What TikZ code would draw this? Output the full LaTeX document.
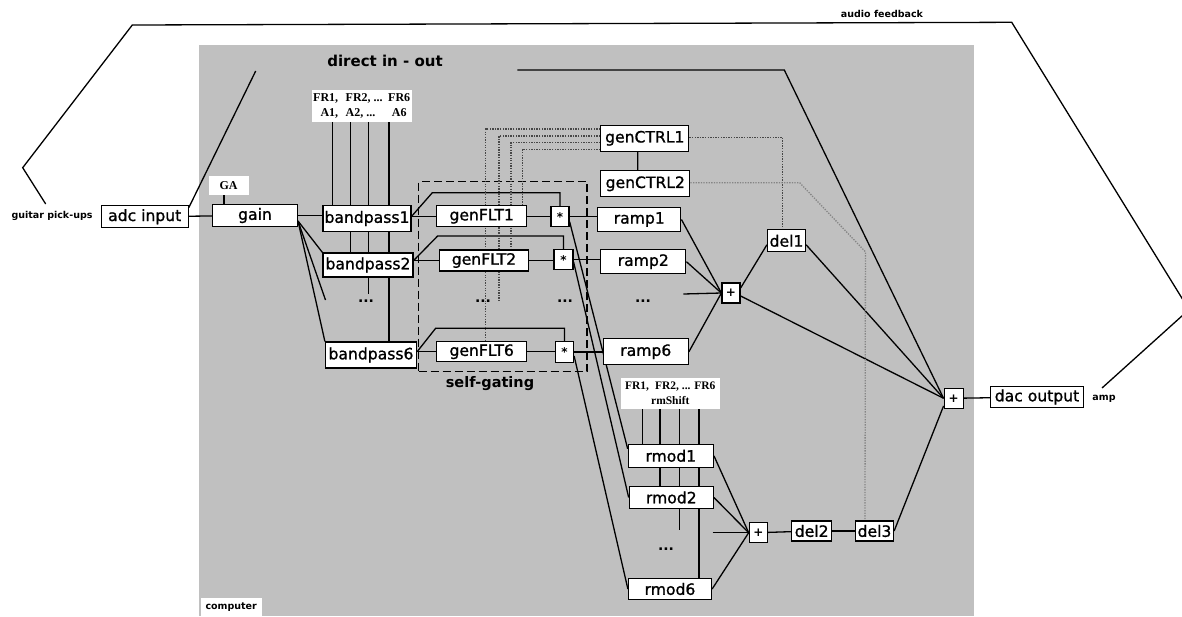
\documentclass[tikz,border=0pt]{standalone}
\usepackage{fontspec}
\setmainfont{DejaVu Sans}
\newfontfamily\boxfont{DejaVu Sans}[FakeBold=1.1]
\newfontfamily\lblserif{Liberation Serif}
\usetikzlibrary{calc}
\pgfdeclarelayer{bg}
\pgfdeclarelayer{edges}
\pgfsetlayers{bg,edges,main}
\definecolor{panel}{RGB}{192,192,192}

\begin{document}
\begin{tikzpicture}[x=1pt,y=-1pt,
  sz/.style 2 args={minimum width=#1pt, minimum height=#2pt},
  blk/.style={draw, fill=white, line width=1.25pt, inner sep=0pt,
    font=\boxfont\fontsize{15.6}{18}\selectfont},
  opbox/.style={draw, fill=white, line width=1.25pt, inner sep=0pt,
    font=\bfseries\fontsize{12}{12}\selectfont},
  dtag/.style={fill=white, inner sep=0pt,
    font=\lblserif\bfseries\fontsize{12}{15}\selectfont},
  dnote/.style={inner sep=0pt, font=\bfseries\fontsize{9.5}{11}\selectfont},
  dtitle/.style={inner sep=0pt, font=\bfseries\fontsize{15}{17}\selectfont},
  dmore/.style={inner sep=0pt, font=\bfseries\fontsize{14}{14}\selectfont},
  wire/.style={line width=1.3pt, black},
  ctl/.style={line width=1.3pt, dash pattern=on 1.3pt off 1.3pt, black!72},
  ctlb/.style={ctl, black!48},
  gatebox/.style={draw, dash pattern=on 8pt off 4pt, line width=1.2pt, inner sep=0pt}
]
\useasboundingbox (0,0) rectangle (1182,616);

% computer panel
\begin{pgfonlayer}{bg}
  \fill[panel] (198.5,44.5) rectangle (974,616);
\end{pgfonlayer}

% ---- blocks ----
\node[blk, sz={87}{22}] (adc) at (144.7,216.7) {adc input};
\node[blk, sz={85}{22}] (gain) at (255,215.5) {gain};
\node[dtag, sz={40}{19}] (ga) at (228.5,185.3) {GA};

\node[dtag, sz={100}{32}] (bplab) at (361.7,105.5)
  {\begin{tabular}{@{}r@{\hspace{7.5pt}}l@{\hspace{5.5pt}}c@{}}FR1, & FR2, ... & FR6\\ A1, & A2, ... & A6\end{tabular}};

\node[blk, sz={88}{26}] (bp1) at (367,218.5) {bandpass1};
\node[blk, sz={90}{24}] (bp2) at (368,265) {bandpass2};
\node[blk, sz={91}{26}] (bp6) at (371,355) {bandpass6};
\node[dmore] (dbp) at (366,301) {...};

\node[blk, sz={90}{21}] (flt1) at (481.7,216.3) {genFLT1};
\node[blk, sz={89}{21}] (flt2) at (484,260.5) {genFLT2};
\node[blk, sz={90}{20}] (flt6) at (481.7,351.7) {genFLT6};
\node[dmore] (dflt) at (483,301) {...};

\node[opbox, sz={18}{20}] (s1) at (560,216.7) {*};
\node[opbox, sz={19}{20}] (s2) at (563.5,259.6) {*};
\node[opbox, sz={18}{21}] (s6) at (564.5,352) {*};
\node[dmore] (dstar) at (565,301) {...};

\node[blk, sz={83}{24}] (ramp1) at (639.3,219.5) {ramp1};
\node[blk, sz={85}{24}] (ramp2) at (643.3,261.7) {ramp2};
\node[blk, sz={85}{26}] (ramp6) at (645.8,351.7) {ramp6};
\node[dmore] (dramp) at (643,301) {...};

\node[blk, sz={88}{26}] (ctrl1) at (644.8,138.3) {genCTRL1};
\node[blk, sz={89}{26}] (ctrl2) at (645.3,183.8) {genCTRL2};

\node[opbox, sz={18}{20}] (sumA) at (731,293) {+};
\node[blk, sz={38}{22}] (del1) at (786.5,240.8) {del1};

\node[dtag, sz={99}{31}, font=\lblserif\bfseries\fontsize{11.5}{14.3}\selectfont, align=center]
  (rmlab) at (670.3,393.3) {FR1,\hspace{6pt}FR2, ... FR6\\rmShift};
\node[blk, sz={85}{23}] (rmod1) at (670.8,455.8) {rmod1};
\node[blk, sz={84}{22}] (rmod2) at (671.3,497.5) {rmod2};
\node[blk, sz={83}{21}] (rmod6) at (670,589) {rmod6};
\node[dmore] (drmod) at (666,549) {...};

\node[opbox, sz={18}{20}] (sumB) at (758.3,532.7) {+};
\node[blk, sz={40}{20}] (del2) at (811.7,531) {del2};
\node[blk, sz={38}{20}] (del3) at (874.5,531) {del3};

\node[opbox, sz={19}{20}] (sumO) at (953.7,398.3) {+};
\node[blk, sz={93}{21}] (dac) at (1037,397) {dac output};

% ---- labels ----
\node[dtitle] (direct) at (385,61) {direct in - out};
\node[dtitle, font=\bfseries\fontsize{14.5}{17}\selectfont] (selfg) at (490,384) {self-gating};
\node[dnote] (pick) at (52,216) {guitar pick-ups};
\node[dnote] (afb) at (882,14) {audio feedback};
\node[dnote] (amp) at (1104,399) {amp};
\node[dnote, fill=white, sz={61}{18}] (comp) at (231.2,607) {computer};

% ---- connectors ----
\begin{pgfonlayer}{edges}
  % self-gating frame
  \node[gatebox, sz={168.5}{190}] (gate) at (502.75,276.7) {};

  % audio feedback loop outside the computer
  \coordinate (fbS) at (45.7,204);
  \coordinate (fbE) at (1102,388);
  \draw[wire] (fbS) -- (22.7,167.7) -- (132.3,25) -- (1011.7,22.3) -- (1189,309.6) -- (fbE);

  % direct in - out
  \coordinate (dA) at (255.7,71);
  \coordinate (dB) at (517.3,70);
  \coordinate (dC) at (784.3,70);
  \draw[wire] ($(adc.north east)+(0,2.5)$) -- (dA);
  \draw[wire] (dB) -- (dC) -- (sumO.west);

  % input chain
  \draw[wire] (adc) -- (gain);
  \draw[wire] ($(ga.south)+(-4.5,0)$) coordinate (gaL) -- (gaL |- gain.north);
  \draw[wire] (gain.east) -- (gain.east -| bp1.west);
  \coordinate (gfan) at (298,221);
  \coordinate (bpd) at (325.5,300);
  \draw[wire] (gfan) -- (bp2.north west);
  \draw[wire] (gfan) -- (bpd);
  \draw[wire] (gfan) -- (bp6.north west);

  % bandpass parameters
  \draw[wire] ($(bplab.south west)+(21.3,0)$) coordinate (v1) -- (v1 |- bp1.north);
  \draw[wire] ($(bplab.south west)+(39.3,0)$) coordinate (v2) -- (v2 |- bp2.north);
  \draw[wire] ($(bplab.south west)+(57.3,0)$) coordinate (v3) -- ($(v3 |- dbp.north)+(0,-5)$);
  \draw[wire] ($(bplab.south west)+(77.6,0)$) coordinate (v4) -- (v4 |- bp6.north);

  % bandpass -> filter and gate bypass
  \draw[wire] (bp1.east |- flt1) -- (flt1.west);
  \draw[wire] (bp2.east |- flt2) -- (flt2.west);
  \draw[wire] (bp6.east |- flt6) -- (flt6.west);
  \draw[wire] (bp1.east |- flt1) -- ++(20.7,-23.6) -| (s1.north);
  \draw[wire] (bp2.east |- flt2) -- ++(24,-24.5) -| (s2.north);
  \draw[wire] (bp6.east |- flt6) -- ++(18.5,-23.4) -| (s6.north);

  \draw[wire] (flt1.east) -- (flt1.east -| s1.west);
  \draw[wire] (flt2.east) -- (flt2.east -| s2.west);
  \draw[wire] (flt6.east) -- (flt6.east -| s6.west);

  \draw[wire] (s1.east) -- (s1.east -| ramp1.west);
  \draw[wire] (s2.east) -- (s2.east -| ramp2.west);
  \draw[wire] (s6.east) -- (s6.east -| ramp6.west);

  % gated signals to the ring modulators
  \draw[wire] ($(s1.east)+(0,5)$) -- ($(rmod1.west)+(0,-7)$);
  \draw[wire] ($(s2.east)+(0,2.5)$) -- (rmod2.west);
  \draw[wire] ($(s6.east)+(0,4)$) -- (rmod6.west);

  % ramp mix
  \coordinate (rdots) at (683.3,294);
  \draw[wire] (ramp1.east) -- (sumA.west);
  \draw[wire] (ramp2.east) -- (sumA.west);
  \draw[wire] (rdots) -- (sumA.west);
  \draw[wire] (ramp6.east) -- (sumA.west);
  \draw[wire] ($(sumA.east)+(0,-5)$) -- ($(del1.west)+(0,4)$);
  \draw[wire] ($(sumA.east)+(0,3)$) -- (sumO.west);
  \draw[wire] ($(del1.east)+(0,4)$) -- (sumO.west);

  % ring modulator parameters
  \draw[wire] ($(rmlab.south west)+(21.6,0)$) coordinate (r1) -- (r1 |- rmod1.north);
  \draw[wire] ($(rmlab.south west)+(39.3,0)$) coordinate (r2) -- (r2 |- rmod2.north);
  \draw[wire] ($(rmlab.south west)+(58.6,0)$) coordinate (r3) -- ($(r3 |- drmod.north)+(0,-17)$);
  \draw[wire] ($(rmlab.south west)+(78.3,0)$) coordinate (r4) -- (r4 |- rmod6.north);

  % ring modulator mix
  \coordinate (rmdots) at (712.7,532.7);
  \draw[wire] (rmod1.east) -- (sumB.west);
  \draw[wire] (rmod2.east) -- (sumB.west);
  \draw[wire] (rmdots) -- (sumB.west);
  \draw[wire] (rmod6.east) -- (sumB.west);
  \draw[wire] (sumB) -- (del2);
  \draw[wire] (del2) -- (del3);
  \draw[wire] (del3.east) -- ($(sumO.south west)+(0,-3)$);

  % output
  \draw[wire] (sumO) -- (dac);

  % control generators
  \draw[wire] ($(ctrl1.south)+(-7,0)$) -- ($(ctrl2.north)+(-7.6,0)$);
  \coordinate (k1) at (485.7,0);
  \coordinate (k2) at (499,0);
  \coordinate (k3) at (511,0);
  \coordinate (k4) at (522.3,0);
  \coordinate (kd) at (499,301);
  \draw[ctl] ($(ctrl1.west)+(0,-9.3)$) -| (k1 |- flt6.north);
  \draw[ctl] ($(ctrl1.west)+(0,-2.3)$) -| (kd);
  \draw[ctl] ($(ctrl1.west)+(0,4.4)$) -| (k3 |- flt2.north);
  \draw[ctl] ($(ctrl1.west)+(0,11)$) -| (k4 |- flt1.north);
  \draw[ctl] ($(ctrl1.east)+(0,-1)$) -| ($(del1.north)+(-3.8,0)$);
  \draw[ctlb] ($(ctrl2.east)+(0,-1)$) -- ++(109.3,0) -- ++(65.7,69) -- ($(del3.north)+(-9.5,0)$);
\end{pgfonlayer}
\end{tikzpicture}
\end{document}
